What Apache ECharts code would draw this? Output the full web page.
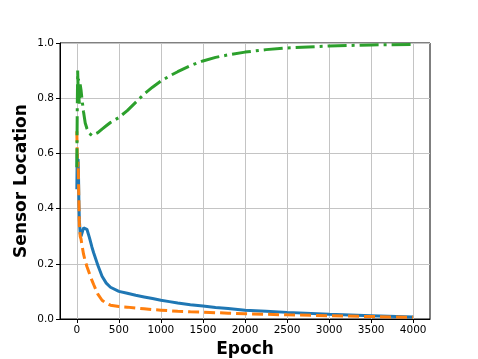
<!DOCTYPE html>
<html>
<head>
<meta charset="utf-8">
<script src="https://cdn.jsdelivr.net/npm/echarts@6/dist/echarts.min.js"></script>
<style>
  html, body { margin: 0; padding: 0; background: #fff; }
  #chart { width: 478px; height: 359px; }
</style>
</head>
<body>
<div id="chart"></div>
<script>
  // epochs sampled densely at the start, where the curves wiggle
  const epochs = [0, 5, 10, 15, 20, 25, 30, 40, 50, 60, 80, 100, 120, 150, 180, 200, 250, 300, 350, 400, 500, 600, 700, 800, 900, 1000, 1100, 1200, 1350, 1500, 1650, 1800, 2000, 2250, 2500, 3000, 3500, 4000];
  const blue = [0.47, 0.6, 0.5, 0.58, 0.52, 0.42, 0.36, 0.31, 0.3, 0.31, 0.33, 0.335, 0.325, 0.295, 0.26, 0.24, 0.195, 0.155, 0.13, 0.115, 0.1, 0.093, 0.086, 0.08, 0.074, 0.068, 0.063, 0.058, 0.052, 0.047, 0.042, 0.038, 0.032, 0.028, 0.024, 0.017, 0.012, 0.007];
  const orange = [0.68, 0.6, 0.55, 0.57, 0.5, 0.42, 0.34, 0.3, 0.29, 0.27, 0.235, 0.21, 0.19, 0.165, 0.14, 0.125, 0.09, 0.068, 0.057, 0.05, 0.045, 0.043, 0.04, 0.037, 0.034, 0.032, 0.03, 0.028, 0.026, 0.025, 0.023, 0.021, 0.019, 0.017, 0.015, 0.012, 0.009, 0.006];
  const green = [0.55, 0.75, 0.9, 0.84, 0.87, 0.8, 0.78, 0.85, 0.83, 0.8, 0.75, 0.71, 0.69, 0.672, 0.665, 0.665, 0.675, 0.688, 0.7, 0.712, 0.73, 0.755, 0.785, 0.815, 0.84, 0.862, 0.88, 0.896, 0.918, 0.935, 0.948, 0.957, 0.967, 0.976, 0.982, 0.989, 0.993, 0.995];
  const xTicks = [0, 500, 1000, 1500, 2000, 2500, 3000, 3500, 4000];

  const pairs = (ys) => epochs.map((e, i) => [e, ys[i]]);
  const font = 'DejaVu Sans';

  const chart = echarts.init(document.getElementById('chart'));
  const line = (data, color, type, z) => ({
    type: 'line',
    data,
    symbol: 'none',
    z,
    lineStyle: { color, width: 3, type, cap: 'butt' },
  });

  chart.setOption({
    animation: false,
    grid: {
      left: 60, right: 48, top: 43, bottom: 40,
      show: true, borderColor: '#000', borderWidth: 1,
      outerBoundsMode: 'none',
    },
    xAxis: {
      type: 'value',
      min: -200, max: 4200, splitNumber: 8,
      name: 'Epoch',
      nameLocation: 'middle',
      nameGap: 22,
      nameMoveOverlap: false,
      nameTextStyle: { fontFamily: font, fontWeight: 'bold', fontSize: 17, color: '#000' },
      axisLine: { show: true, onZero: false, lineStyle: { color: '#000' } },
      axisTick: { show: true, length: 4, customValues: xTicks, lineStyle: { color: '#000' } },
      axisLabel: {
        customValues: xTicks, fontFamily: font, fontSize: 10.5, color: '#000', margin: 6,
        formatter: (v) => String(v),
      },
      splitLine: { show: true, lineStyle: { color: '#c4c4c4', width: 1 } },
    },
    yAxis: {
      type: 'value',
      min: 0, max: 1, interval: 0.2,
      name: 'Sensor Location',
      nameLocation: 'middle',
      nameGap: 30,
      nameMoveOverlap: false,
      nameTextStyle: { fontFamily: font, fontWeight: 'bold', fontSize: 17, color: '#000' },
      axisLine: { show: true, onZero: false, lineStyle: { color: '#000' } },
      axisTick: { show: true, length: 4, lineStyle: { color: '#000' } },
      axisLabel: { fontFamily: font, fontSize: 10.5, color: '#000', margin: 6, formatter: (v) => v.toFixed(1) },
      splitLine: { show: true, lineStyle: { color: '#c4c4c4', width: 1 } },
    },
    series: [
      line(pairs(blue), '#1f77b4', 'solid', 2),
      line(pairs(orange), '#ff7f0e', [11, 5], 3),
      line(pairs(green), '#2ca02c', [19, 5, 3, 5], 4),
    ],
  });
</script>
</body>
</html>
